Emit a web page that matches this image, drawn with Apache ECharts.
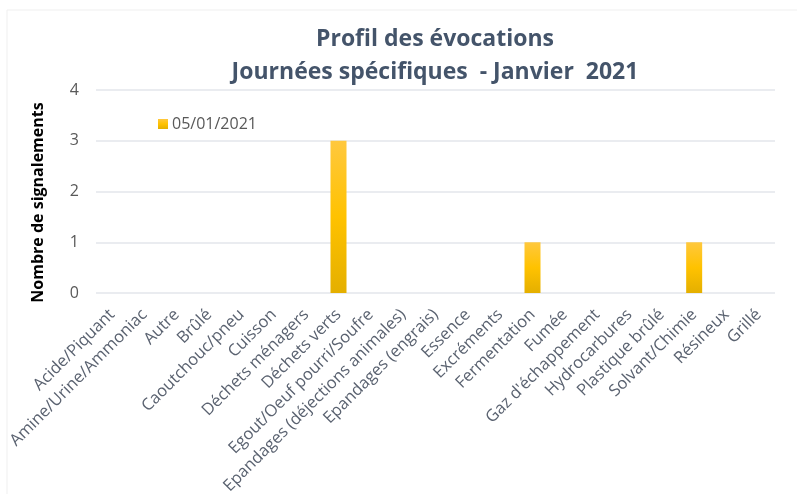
<!DOCTYPE html>
<html>
<head>
<meta charset="utf-8">
<script src="https://cdn.jsdelivr.net/npm/echarts@6/dist/echarts.min.js"></script>
<style>
html, body { margin: 0; padding: 0; background: #fff; }
#chart1 { width: 797px; height: 494px; }
</style>
</head>
<body>
<div id="chart1"></div>
<script>
var categories = ['Acide/Piquant', 'Amine/Urine/Ammoniac', 'Autre', 'Brûlé', 'Caoutchouc/pneu', 'Cuisson',
	'Déchets ménagers', 'Déchets verts', 'Egout/Oeuf pourri/Soufre', 'Epandages (déjections animales)',
	'Epandages (engrais)', 'Essence', 'Excréments', 'Fermentation', 'Fumée', "Gaz d'échappement",
	'Hydrocarbures', 'Plastique brûlé', 'Solvant/Chimie', 'Résineux', 'Grillé'];
var serieName = '05/01/2021';
var values = [0, 0, 0, 0, 0, 0, 0, 3, 0, 0, 0, 0, 0, 1, 0, 0, 0, 0, 1, 0, 0];
var yTicks = [0, 1, 2, 3, 4];

var FONT = 'Open Sans';
var myChart = echarts.init(document.getElementById('chart1'));

var barColor = new echarts.graphic.LinearGradient(0, 0, 0, 1, [
	{ offset: 0, color: '#FFC83E' },
	{ offset: 0.5, color: '#FFC200' },
	{ offset: 1, color: '#E4AF00' }
]);

var option = {
	backgroundColor: '#fff',
	animation: false,
	graphic: [
		{ type: 'line', shape: { x1: 7, y1: 10, x2: 797, y2: 10 }, style: { stroke: '#EFEFEF', lineWidth: 1 } },
		{ type: 'line', shape: { x1: 7, y1: 10, x2: 7, y2: 494 }, style: { stroke: '#EFEFEF', lineWidth: 1 } }
	],
	title: {
		text: 'Profil des évocations\nJournées spécifiques  - Janvier  2021',
		left: 430,
		top: 18,
		textAlign: 'center',
		textStyle: {
			fontFamily: FONT,
			fontWeight: 'bold',
			fontSize: 23,
			lineHeight: 33,
			color: '#44546A'
		}
	},
	legend: {
		left: 153,
		top: 111,
		icon: 'rect',
		itemWidth: 10,
		itemHeight: 10,
		itemGap: 4,
		data: [serieName],
		textStyle: { fontFamily: FONT, fontSize: 16, color: '#595959', padding: [0, 0, 0, -1] }
	},
	grid: {
		left: 96,
		right: 22,
		top: 90,
		bottom: 201,
		containLabel: false,
		outerBoundsMode: 'none'
	},
	xAxis: {
		type: 'category',
		data: categories,
		axisLine: { show: false },
		axisTick: { show: false },
		axisLabel: {
			rotate: 45,
			interval: 0,
			margin: 19,
			fontFamily: FONT,
			fontSize: 16.5,
			color: '#5A6270'
		}
	},
	yAxis: {
		type: 'value',
		min: yTicks[0],
		max: yTicks[yTicks.length - 1],
		interval: 1,
		name: 'Nombre de signalements',
		nameLocation: 'middle',
		nameGap: 50,
		nameTextStyle: {
			fontFamily: FONT,
			fontWeight: 'bold',
			fontSize: 16,
			color: '#000',
			padding: [0, 0, 0, -22]
		},
		axisLine: { show: false },
		axisTick: { show: false },
		axisLabel: { fontFamily: FONT, fontSize: 16, color: '#595959', margin: 17 },
		splitLine: { lineStyle: { color: '#E3E6EB', width: 1.5 } }
	},
	series: [
		{
			name: serieName,
			type: 'bar',
			barWidth: 16,
			data: values,
			itemStyle: { color: barColor }
		}
	]
};
myChart.setOption(option);

window.onresize = function() {
	myChart.resize();
}
</script>
</body>
</html>
